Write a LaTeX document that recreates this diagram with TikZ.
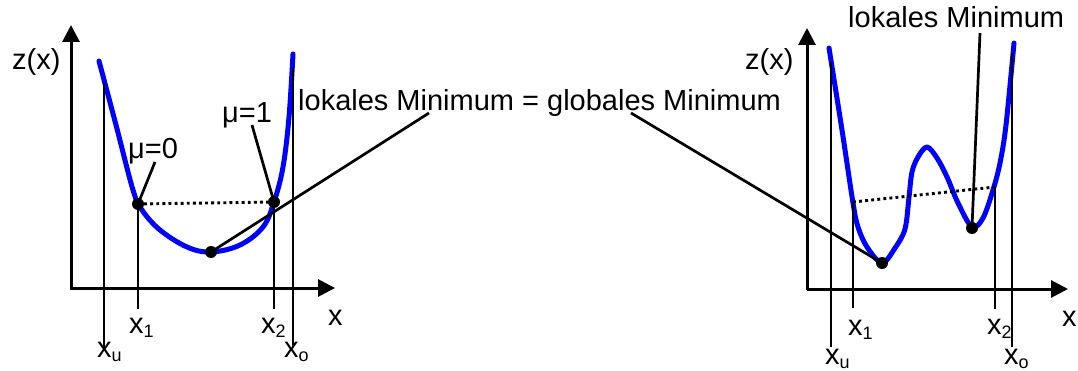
\documentclass[tikz,border=0pt]{standalone}
\usepackage{fontspec}
\setmainfont{Liberation Sans}
\usetikzlibrary{arrows.meta}
\newcommand{\subs}[1]{\raisebox{-4.5pt}{\fontsize{18}{18}\selectfont #1}}
\tikzset{
  axis/.style={line width=3pt, -{Triangle[length=17pt,width=17pt]}},
  curve/.style={line width=5pt, blue, line join=round, line cap=round},
  vline/.style={line width=2.8pt},
  leader/.style={line width=2.7pt},
  dotline/.style={line width=2.9pt, dash pattern=on 2.9pt off 3.2pt},
  dot/.style={circle, fill=black, inner sep=0pt, minimum size=12pt},
  lbl/.style={inner sep=0pt, anchor=base west, font=\fontsize{29}{34}\selectfont},
}
\begin{document}
\begin{tikzpicture}[x=1pt,y=-1pt]
\useasboundingbox (0,0) rectangle (1078,371);
% ---------------- left diagram ----------------
\coordinate (LO) at (71,288);
\coordinate (LY) at (71,25);
\coordinate (LX) at (335,288);
\draw[axis] (71,290) -- (LY);
\draw[axis] (LO) -- (LX);
\draw[curve] plot[smooth, tension=0.6] coordinates {(99,61) (116,125) (133,190) (142,210) (160,230) (187,247) (211,252) (240,245) (263,227) (274,202) (283,167) (289,117) (293,54)};
\coordinate (Lxu) at (104,83);   \coordinate (Lxub) at (104,348);
\coordinate (Lxo) at (293,68);   \coordinate (Lxob) at (293,348);
\coordinate (Lx1b) at (138,309);
\coordinate (Lx2b) at (274,309);
\node[dot] (L1) at (138,204) {};
\node[dot] (L2) at (274,202) {};
\node[dot] (Lmin) at (211,252) {};
\draw[vline] (Lxu) -- (Lxub);
\draw[vline] (Lxo) -- (Lxob);
\draw[vline] (L1.center) -- (Lx1b);
\draw[vline] (L2.center) -- (Lx2b);
\draw[dotline] (L1.center) -- (L2.center);
\node[lbl] (Lz) at (12,70) {z(x)};
\node[lbl] (Lx) at (328,325) {x};
\node[lbl] (Lmu0) at (128,159) {μ=0};
\node[lbl] (Lmu1) at (222,123) {μ=1};
\coordinate (Lmu0a) at (155,162);
\coordinate (Lmu1a) at (252,125);
\draw[leader] (Lmu0a) -- (L1.center);
\draw[leader] (Lmu1a) -- (L2.center);
\node[lbl] (Lxu label) at (97,357) {x\subs{u}};
\node[lbl] (Lx1 label) at (129,333) {x\subs{1}};
\node[lbl] (Lx2 label) at (261,333) {x\subs{2}};
\node[lbl] (Lxo label) at (284,357) {x\subs{o}};
% ---------------- middle text ----------------
\node[lbl] (glob) at (298,111) {lokales Minimum = globales Minimum};
\coordinate (globA) at (429,113);
\coordinate (globB) at (631,113);
% ---------------- right diagram ----------------
\coordinate (RO) at (807,289);
\coordinate (RY) at (807,28);
\coordinate (RX) at (1068,289);
\draw[axis] (807,290) -- (RY);
\draw[axis] (RO) -- (RX);
\draw[curve] plot[smooth, tension=0.55] coordinates {(829,48) (842,130) (853,203) (858,227) (867,247) (882,263) (895,248) (905,229) (909,197) (912,172) (918,157) (927,147) (937,158) (947,177) (958,203) (972,227) (983,218) (993,190) (1000,163) (1006,125) (1014,43)};
\coordinate (Rxu) at (831,62);   \coordinate (Rxub) at (831,347);
\coordinate (Rxo) at (1012,53);  \coordinate (Rxob) at (1012,347);
\coordinate (Rx1) at (853,202);  \coordinate (Rx1b) at (853,308);
\coordinate (Rx2) at (995,187);  \coordinate (Rx2b) at (995,309);
\draw[vline] (Rxu) -- (Rxub);
\draw[vline] (Rxo) -- (Rxob);
\draw[vline] (Rx1) -- (Rx1b);
\draw[vline] (Rx2) -- (Rx2b);
\draw[dotline] (Rx1) -- (Rx2);
\node[dot] (Rmin) at (882,263) {};
\node[dot] (Rloc) at (972,228) {};
\node[lbl] (Rz) at (745,70) {z(x)};
\node[lbl] (Rx) at (1062,326) {x};
\node[lbl] (loc) at (848,28) {lokales Minimum};
\coordinate (locA) at (980,33);
\draw[leader] (locA) -- (Rloc.center);
\node[lbl] (Rxu label) at (825,364) {x\subs{u}};
\node[lbl] (Rx1 label) at (848,335) {x\subs{1}};
\node[lbl] (Rx2 label) at (987,334) {x\subs{2}};
\node[lbl] (Rxo label) at (1004,364) {x\subs{o}};
% ---------------- leaders from middle text ----------------
\draw[leader] (globA) -- (Lmin.center);
\draw[leader] (globB) -- (Rmin.center);
\end{tikzpicture}
\end{document}
